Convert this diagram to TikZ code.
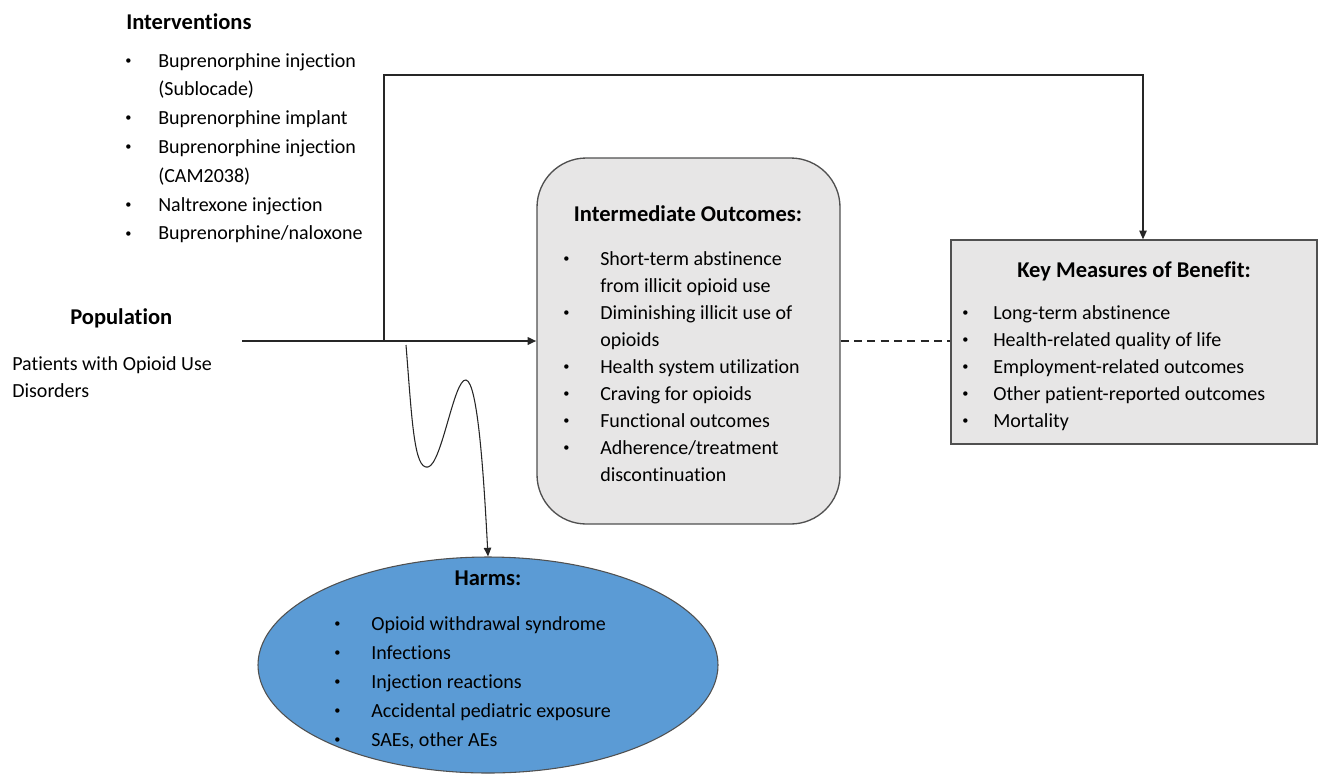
\documentclass[tikz,border=0pt]{standalone}
\usepackage{fontspec}
\setmainfont{Carlito}[Ligatures=NoCommon]
\usetikzlibrary{shapes.geometric,arrows.meta}
\newlength{\px}\setlength{\px}{0.75pt}
\newcommand{\dotb}{\raisebox{0.28ex}{\scalebox{0.62}{\textbullet}}}
\definecolor{boxgray}{HTML}{E7E6E6}
\definecolor{harmblue}{HTML}{5B9BD5}
\definecolor{edgegray}{HTML}{505050}
\begin{document}
\begin{tikzpicture}[x=0.75pt,y=-0.75pt,
  head/.style={font=\fontsize{16.9}{20}\selectfont\bfseries,inner sep=0pt,anchor=base},
  body/.style={font=\fontsize{15}{20.25}\selectfont,inner sep=0pt,anchor=base west},
  link/.style={draw=black!85,line width=1pt},
  tip/.style={-{Triangle[length=6.5pt,width=5.5pt]}}]
\useasboundingbox (0,0) rectangle (1319,775);
% Interventions
\node[head,anchor=base west] (intv) at (126,29) {Interventions};
\node[body,font=\fontsize{15}{21.6}\selectfont] (intvlist) at (125,67) {\begin{tabular}[t]{@{}p{33\px}@{}l@{}}
\dotb & Buprenorphine injection\\
 & (Sublocade)\\
\dotb & Buprenorphine implant\\
\dotb & Buprenorphine injection\\
 & (CAM2038)\\
\dotb & Naltrexone injection\\
\dotb & Buprenorphine/naloxone
\end{tabular}};
% Population
\node[head,anchor=base west] (pop) at (70,324) {Population};
\node[body] (poptext) at (12,370) {\begin{tabular}[t]{@{}l@{}}
Patients with Opioid Use\\
Disorders
\end{tabular}};
% Intermediate outcomes
\node[draw=edgegray,line width=1pt,fill=boxgray,rounded corners=37pt,minimum width=303\px,minimum height=366\px] (inter) at (688.5,341) {};
\node[head] (intertitle) at (688,221) {Intermediate Outcomes:};
\node[body] (interlist) at (563,265) {\begin{tabular}[t]{@{}p{37\px}@{}l@{}}
\dotb & Short-term abstinence\\
 & from illicit opioid use\\
\dotb & Diminishing illicit use of\\
 & opioids\\
\dotb & Health system utilization\\
\dotb & Craving for opioids\\
\dotb & Functional outcomes\\
\dotb & Adherence/treatment\\
 & discontinuation
\end{tabular}};
% Key measures of benefit
\node[draw=edgegray,line width=1pt,fill=boxgray,minimum width=366\px,minimum height=204\px] (key) at (1134,342) {};
\node[head] (keytitle) at (1134,277) {Key Measures of Benefit:};
\node[body] (keylist) at (962,319) {\begin{tabular}[t]{@{}p{31\px}@{}l@{}}
\dotb & Long-term abstinence\\
\dotb & Health-related quality of life\\
\dotb & Employment-related outcomes\\
\dotb & Other patient-reported outcomes\\
\dotb & Mortality
\end{tabular}};
% Harms
\node[ellipse,draw=edgegray,line width=0.8pt,fill=harmblue,minimum width=460\px,minimum height=216\px,inner sep=0pt] (harms) at (488,665) {};
\node[head] (harmtitle) at (488,585) {Harms:};
\node[body,font=\fontsize{15}{21.75}\selectfont] (harmlist) at (334,630) {\begin{tabular}[t]{@{}p{37\px}@{}l@{}}
\dotb & Opioid withdrawal syndrome\\
\dotb & Infections\\
\dotb & Injection reactions\\
\dotb & Accidental pediatric exposure\\
\dotb & SAEs, other AEs
\end{tabular}};
% connectors
\coordinate (popend) at (242,341);
\coordinate (branch) at (384,341);
\coordinate (topright) at (1143,75);
\coordinate (hstart) at (406,345);
\draw[link,tip] (branch) |- (topright) -- (topright |- key.north);
\draw[link,tip,line width=1.8pt] (popend) -- (inter.west);
\draw[link,dashed,line width=1.2pt,dash pattern=on 6pt off 4pt] (inter.east) -- (inter.east -| key.west);
\draw[link,tip,line width=0.8pt] (hstart) .. controls (412,420) and (414,470) .. (428,467)
  .. controls (442,464) and (454,378) .. (466,380)
  .. controls (478,382) and (484,480) .. (harms.north);
\end{tikzpicture}
\end{document}
